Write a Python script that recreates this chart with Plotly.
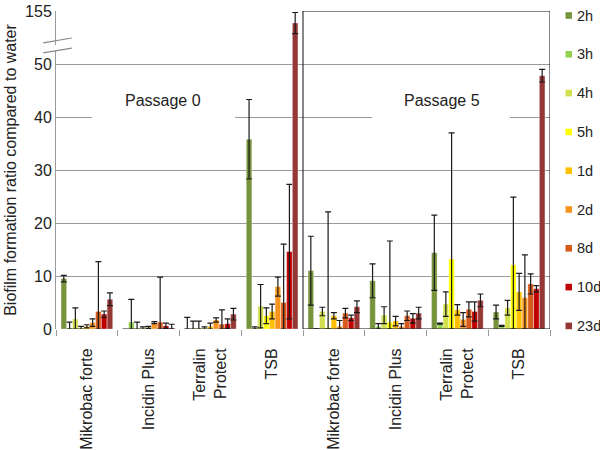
import plotly.graph_objects as go

categories = ["Mikrobac forte", "Incidin Plus", "Terralin<br>Protect", "TSB",
              "Mikrobac forte", "Incidin Plus", "Terralin<br>Protect", "TSB"]
series_names = ["2h", "3h", "4h", "5h", "1d", "2d", "8d", "10d", "23d"]
colors = ["#77933C", "#92D050", "#D2DF4E", "#FFFF00", "#FFC000",
          "#F7941D", "#D65A1B", "#C00000", "#953735"]

v_2h = [9.5, 0.0, 0.1, 35.8, 11.0, 9.1, 14.4, 3.2]
e_2h = [0.6, 0.0, 2.1, 7.5, 6.5, 3.2, 7.1, 1.3]
v_3h = [0.2, 1.3, 0.05, 0.2, 0.05, 0.5, 1.0, 0.6]
e_3h = [1.1, 4.3, 1.45, 0.2, 0.0, 0.5, 0.1, 0.1]
v_4h = [1.9, 0.1, 0.2, 4.3, 3.3, 2.6, 4.7, 4.0]
e_4h = [2.1, 1.2, 1.3, 4.1, 0.8, 1.6, 2.3, 1.4]
v_5h = [0.2, 0.1, 0.1, 2.5, 0.3, 1.3, 13.2, 12.1]
e_5h = [0.3, 0.3, 0.3, 1.5, 21.8, 15.3, 23.8, 12.8]
v_1d = [0.5, 0.3, 0.5, 3.3, 2.5, 1.5, 3.6, 7.0]
e_1d = [0.3, 0.2, 0.6, 1.4, 0.6, 0.9, 1.0, 3.5]
v_2d = [1.2, 1.2, 1.7, 8.0, 0.5, 0.5, 1.8, 5.9]
e_2d = [0.7, 0.2, 0.4, 1.8, 1.1, 0.5, 1.3, 8.1]
v_8d = [3.3, 1.3, 0.9, 5.0, 3.0, 2.5, 3.7, 8.5]
e_8d = [9.4, 8.5, 2.7, 11.0, 0.9, 0.9, 1.4, 1.9]
v_10d = [2.8, 0.6, 1.0, 14.6, 2.1, 2.0, 3.3, 7.6]
e_10d = [0.6, 0.5, 0.9, 12.7, 0.5, 0.9, 1.8, 0.6]
v_23d = [5.6, 0.2, 2.8, 131.0, 4.2, 3.0, 5.4, 47.8]
e_23d = [1.2, 0.7, 1.1, 21.0, 1.1, 1.1, 1.2, 1.2]

values = [v_2h, v_3h, v_4h, v_5h, v_1d, v_2d, v_8d, v_10d, v_23d]
errors = [e_2h, e_3h, e_4h, e_5h, e_1d, e_2d, e_8d, e_10d, e_23d]

y_tick_vals = [0, 10, 20, 30, 40, 50, 155]
BREAK = 50.0
TOP = 155.0


def fwd(v):
    # broken axis: 50..155 compressed into one 10-unit band
    if v <= BREAK:
        return v
    return BREAK + (v - BREAK) * 10.0 / (TOP - BREAK)


W, H = 600, 450
ML, MR, MT, MB = 56, 50, 11, 121
PW, PH = W - ML - MR, H - MT - MB

xs = list(range(len(categories)))
fig = go.Figure()
for name, col, vals, errs in zip(series_names, colors, values, errors):
    ys = [fwd(v) for v in vals]
    up = [fwd(v + e) - fwd(v) for v, e in zip(vals, errs)]
    dn = [fwd(v) - fwd(max(v - e, 0)) for v, e in zip(vals, errs)]
    fig.add_trace(go.Bar(
        x=xs, y=ys, name=name, showlegend=False,
        marker=dict(color=col, line=dict(color="rgba(255,255,255,0.6)", width=0.5)),
        error_y=dict(type="data", symmetric=False, array=up, arrayminus=dn,
                     color="#1a1a1a", thickness=1.2, width=3),
    ))

# invisible trace to carry the label axis
fig.add_trace(go.Scatter(x=xs, y=[0] * len(xs), xaxis="x2", mode="markers",
                         marker=dict(opacity=0), showlegend=False, hoverinfo="skip"))

font = "Liberation Sans, Arial, sans-serif"
bounds = [i - 0.5 for i in range(len(categories) + 1)]

fig.update_layout(
    width=W, height=H,
    margin=dict(l=ML, r=MR, t=MT, b=MB, autoexpand=False),
    paper_bgcolor="white", plot_bgcolor="white",
    barmode="group", bargap=0.16, bargroupgap=0.04,
    font=dict(family=font, size=16, color="#222"),
    showlegend=False,
    xaxis=dict(domain=[0, 1], range=[-0.5, 7.5], tickmode="array", tickvals=bounds,
               ticktext=[""] * len(bounds), ticks="outside", ticklen=6,
               tickcolor="#999", showgrid=False, zeroline=False, showline=False,
               automargin=False),
    xaxis2=dict(overlaying="x", anchor="y", side="bottom", range=[-0.5, 7.5],
                tickmode="array", tickvals=xs, ticktext=categories,
                tickangle=-90, ticks="outside", ticklen=12, tickcolor="rgba(0,0,0,0)",
                showgrid=False, zeroline=False, showline=False, automargin=False,
                tickfont=dict(size=16, color="#222")),
    yaxis=dict(range=[0, 60], tickmode="array", automargin=False,
               tickvals=[fwd(v) for v in y_tick_vals],
               ticktext=[str(int(v)) for v in y_tick_vals],
               showgrid=True, gridcolor="#9a9a9a", gridwidth=1,
               zeroline=False, showline=True, linecolor="#9a9a9a", linewidth=1,
               ticks="", tickfont=dict(size=16, color="#222"),
               title=dict(text="Biofilm formation ratio compared to water",
                          font=dict(size=16, color="#222"), standoff=4)),
)

# boxes behind the passage labels, box around passage 5
fig.add_shape(type="rect", xref="x", yref="y", x0=0.08, x1=2.4, y0=39.3, y1=46.2,
              fillcolor="white", line=dict(width=0), layer="between")
fig.add_shape(type="rect", xref="x", yref="y", x0=4.62, x1=6.85, y0=39.3, y1=46.2,
              fillcolor="white", line=dict(width=0), layer="between")
fig.add_shape(type="rect", xref="x", yref="y", x0=3.5, x1=7.5, y0=0, y1=60,
              fillcolor="rgba(0,0,0,0)", line=dict(color="#111", width=1), layer="above")

fig.add_annotation(x=1.23, y=43.2, xref="x", yref="y", text="Passage 0",
                   showarrow=False, font=dict(size=16, color="#222"))
fig.add_annotation(x=5.75, y=43.2, xref="x", yref="y", text="Passage 5",
                   showarrow=False, font=dict(size=16, color="#222"))

# axis break marks
fig.add_shape(type="path", xref="paper", yref="y",
              path="M -0.026,53.2 L 0.032,54.1 L 0.032,53.0 L -0.026,52.1 Z",
              fillcolor="white", line=dict(width=0), layer="above")
fig.add_shape(type="line", xref="paper", yref="y", x0=-0.026, y0=54.0, x1=0.032, y1=54.9,
              line=dict(color="#888", width=1.2), layer="above")
fig.add_shape(type="line", xref="paper", yref="y", x0=-0.026, y0=52.1, x1=0.032, y1=53.0,
              line=dict(color="#888", width=1.2), layer="above")


# legend drawn as small squares + text at the right
def px_x(p):
    return (p - ML) / PW


def px_y(p):
    return (ML * 0 + (MT + PH) - p) / PH


leg_top, leg_step = 15.5, 38.8
for i, (name, col) in enumerate(zip(series_names, colors)):
    cy = leg_top + i * leg_step
    fig.add_shape(type="rect", xref="paper", yref="paper",
                  x0=px_x(565.5), x1=px_x(572), y0=px_y(cy + 3.3), y1=px_y(cy - 3.3),
                  fillcolor=col, line=dict(width=0))
    fig.add_annotation(x=px_x(575), y=px_y(cy), xref="paper", yref="paper",
                       xanchor="left", yanchor="middle", text=name, showarrow=False,
                       font=dict(size=14.5, color="#222"))

fig.write_html("out.html", config={"displayModeBar": False},
               post_script="document.body.style.margin='0';"
                           "document.body.style.overflow='hidden';")
